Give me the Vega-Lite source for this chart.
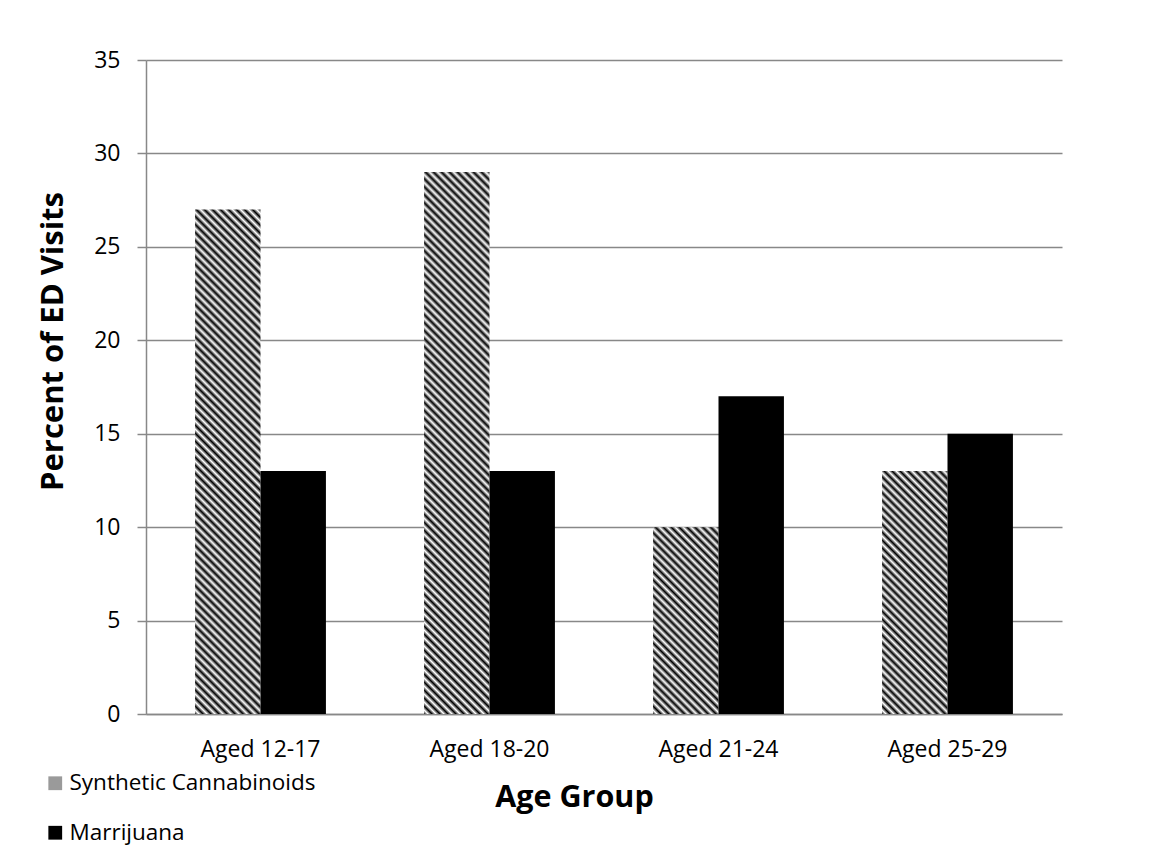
{
"$schema": "https://vega.github.io/schema/vega-lite/v6.json",
"width": 916, "height": 654,
"autosize": "none",
"padding": {"left": 146, "top": 60, "right": 89, "bottom": 143},
"background": "#ffffff",
"config": {"font": "Open Sans", "view": {"stroke": null}},
"data": {"values": [
{"age": "Aged 12-17", "series": "Synthetic Cannabinoids", "value": 27},
{"age": "Aged 12-17", "series": "Marrijuana", "value": 13},
{"age": "Aged 18-20", "series": "Synthetic Cannabinoids", "value": 29},
{"age": "Aged 18-20", "series": "Marrijuana", "value": 13},
{"age": "Aged 21-24", "series": "Synthetic Cannabinoids", "value": 10},
{"age": "Aged 21-24", "series": "Marrijuana", "value": 17},
{"age": "Aged 25-29", "series": "Synthetic Cannabinoids", "value": 13},
{"age": "Aged 25-29", "series": "Marrijuana", "value": 15}
]},
"mark": {"type": "bar"},
"encoding": {
"x": {"field": "age", "type": "nominal", "sort": null,
 "scale": {"paddingInner": 0.428571, "paddingOuter": 0.214286},
 "axis": {"title": "Age Group", "labelAngle": 0, "ticks": false, "grid": false, "domainColor": "#888888", "domainWidth": 1.5,
  "labelFont": "Open Sans", "labelFontSize": 23, "labelColor": "#000000", "labelBaseline": "alphabetic", "labelPadding": 42,
  "titleFont": "Open Sans", "titleFontSize": 30.5, "titleFontWeight": "bold", "titleColor": "#000000",
  "titleX": 428, "titleY": 92, "titleAlign": "center", "titleBaseline": "alphabetic"}},
"xOffset": {"field": "series", "type": "nominal", "scale": {"domain": ["Synthetic Cannabinoids", "Marrijuana"], "paddingInner": 0, "paddingOuter": 0}},
"y": {"field": "value", "type": "quantitative", "scale": {"domain": [0, 35], "nice": false},
 "axis": {"title": "Percent of ED Visits", "values": [0, 5, 10, 15, 20, 25, 30, 35], "grid": true, "gridColor": "#888888", "gridWidth": 1.5,
  "domainColor": "#888888", "domainWidth": 1.5, "tickColor": "#888888", "tickWidth": 1.5, "tickSize": 9,
  "labelFont": "Open Sans", "labelFontSize": 23, "labelColor": "#000000", "labelPadding": 17,
  "titleFont": "Open Sans", "titleFontSize": 31, "titleFontWeight": "bold", "titleColor": "#000000",
  "titleAngle": 270, "titleX": -84, "titleY": 281, "titleAlign": "center", "titleBaseline": "alphabetic"}},
"color": {"field": "series", "type": "nominal",
 "scale": {"domain": ["Synthetic Cannabinoids", "Marrijuana"], "range": ["#9a9a9a", "#000000"]},
 "legend": {"title": null, "orient": "none", "legendX": -102, "legendY": 712, "direction": "vertical", "symbolType": "square", "symbolSize": 190, "symbolStrokeWidth": 0,
  "labelFont": "Open Sans", "labelFontSize": 22.5, "labelColor": "#000000", "labelOffset": 3, "labelLimit": 500, "rowPadding": 26.5, "padding": 0,
  "encode": {"symbols": {"update": {"fill": [
   {"test": "datum.value === 'Synthetic Cannabinoids'", "value": {"gradient": "linear", "x1": 0, "y1": 1, "x2": 1, "y2": 0, "stops": [{"offset":0,"color":"#000"},{"offset":0.125,"color":"#fff"},{"offset":0.25,"color":"#000"},{"offset":0.375,"color":"#fff"},{"offset":0.5,"color":"#000"},{"offset":0.625,"color":"#fff"},{"offset":0.75,"color":"#000"},{"offset":0.875,"color":"#fff"},{"offset":1,"color":"#000"}]}},
   {"value": "#000000"}]}}}},
 "condition": [
  {"test": "datum.series === 'Synthetic Cannabinoids' && datum.age === 'Aged 12-17'", "value": {"gradient": "linear", "x1": 0, "y1": 1, "x2": 0.14408, "y2": -0.11099, "stops": [
{"offset":0,"color":"#000"},{"offset":0.007,"color":"#fff"},{"offset":0.0141,"color":"#000"},{"offset":0.0211,"color":"#fff"},{"offset":0.0282,"color":"#000"},{"offset":0.0352,"color":"#fff"},{"offset":0.0423,"color":"#000"},{"offset":0.0493,"color":"#fff"},{"offset":0.0563,"color":"#000"},{"offset":0.0634,"color":"#fff"},{"offset":0.0704,"color":"#000"},{"offset":0.0775,"color":"#fff"},{"offset":0.0845,"color":"#000"},{"offset":0.0915,"color":"#fff"},{"offset":0.0986,"color":"#000"},{"offset":0.1056,"color":"#fff"},{"offset":0.1127,"color":"#000"},{"offset":0.1197,"color":"#fff"},{"offset":0.1268,"color":"#000"},{"offset":0.1338,"color":"#fff"},{"offset":0.1408,"color":"#000"},{"offset":0.1479,"color":"#fff"},{"offset":0.1549,"color":"#000"},{"offset":0.162,"color":"#fff"},{"offset":0.169,"color":"#000"},{"offset":0.1761,"color":"#fff"},{"offset":0.1831,"color":"#000"},{"offset":0.1901,"color":"#fff"},{"offset":0.1972,"color":"#000"},{"offset":0.2042,"color":"#fff"},{"offset":0.2113,"color":"#000"},{"offset":0.2183,"color":"#fff"},{"offset":0.2254,"color":"#000"},{"offset":0.2324,"color":"#fff"},{"offset":0.2394,"color":"#000"},{"offset":0.2465,"color":"#fff"},{"offset":0.2535,"color":"#000"},{"offset":0.2606,"color":"#fff"},{"offset":0.2676,"color":"#000"},{"offset":0.2746,"color":"#fff"},{"offset":0.2817,"color":"#000"},{"offset":0.2887,"color":"#fff"},{"offset":0.2958,"color":"#000"},{"offset":0.3028,"color":"#fff"},{"offset":0.3099,"color":"#000"},{"offset":0.3169,"color":"#fff"},{"offset":0.3239,"color":"#000"},{"offset":0.331,"color":"#fff"},{"offset":0.338,"color":"#000"},{"offset":0.3451,"color":"#fff"},{"offset":0.3521,"color":"#000"},{"offset":0.3592,"color":"#fff"},{"offset":0.3662,"color":"#000"},{"offset":0.3732,"color":"#fff"},{"offset":0.3803,"color":"#000"},{"offset":0.3873,"color":"#fff"},{"offset":0.3944,"color":"#000"},{"offset":0.4014,"color":"#fff"},{"offset":0.4085,"color":"#000"},{"offset":0.4155,"color":"#fff"},{"offset":0.4225,"color":"#000"},{"offset":0.4296,"color":"#fff"},{"offset":0.4366,"color":"#000"},{"offset":0.4437,"color":"#fff"},{"offset":0.4507,"color":"#000"},{"offset":0.4577,"color":"#fff"},{"offset":0.4648,"color":"#000"},{"offset":0.4718,"color":"#fff"},{"offset":0.4789,"color":"#000"},{"offset":0.4859,"color":"#fff"},{"offset":0.493,"color":"#000"},{"offset":0.5,"color":"#fff"},{"offset":0.507,"color":"#000"},{"offset":0.5141,"color":"#fff"},{"offset":0.5211,"color":"#000"},{"offset":0.5282,"color":"#fff"},{"offset":0.5352,"color":"#000"},{"offset":0.5423,"color":"#fff"},{"offset":0.5493,"color":"#000"},{"offset":0.5563,"color":"#fff"},{"offset":0.5634,"color":"#000"},{"offset":0.5704,"color":"#fff"},{"offset":0.5775,"color":"#000"},{"offset":0.5845,"color":"#fff"},{"offset":0.5915,"color":"#000"},{"offset":0.5986,"color":"#fff"},{"offset":0.6056,"color":"#000"},{"offset":0.6127,"color":"#fff"},{"offset":0.6197,"color":"#000"},{"offset":0.6268,"color":"#fff"},{"offset":0.6338,"color":"#000"},{"offset":0.6408,"color":"#fff"},{"offset":0.6479,"color":"#000"},{"offset":0.6549,"color":"#fff"},{"offset":0.662,"color":"#000"},{"offset":0.669,"color":"#fff"},{"offset":0.6761,"color":"#000"},{"offset":0.6831,"color":"#fff"},{"offset":0.6901,"color":"#000"},{"offset":0.6972,"color":"#fff"},{"offset":0.7042,"color":"#000"},{"offset":0.7113,"color":"#fff"},{"offset":0.7183,"color":"#000"},{"offset":0.7254,"color":"#fff"},{"offset":0.7324,"color":"#000"},{"offset":0.7394,"color":"#fff"},{"offset":0.7465,"color":"#000"},{"offset":0.7535,"color":"#fff"},{"offset":0.7606,"color":"#000"},{"offset":0.7676,"color":"#fff"},{"offset":0.7746,"color":"#000"},{"offset":0.7817,"color":"#fff"},{"offset":0.7887,"color":"#000"},{"offset":0.7958,"color":"#fff"},{"offset":0.8028,"color":"#000"},{"offset":0.8099,"color":"#fff"},{"offset":0.8169,"color":"#000"},{"offset":0.8239,"color":"#fff"},{"offset":0.831,"color":"#000"},{"offset":0.838,"color":"#fff"},{"offset":0.8451,"color":"#000"},{"offset":0.8521,"color":"#fff"},{"offset":0.8592,"color":"#000"},{"offset":0.8662,"color":"#fff"},{"offset":0.8732,"color":"#000"},{"offset":0.8803,"color":"#fff"},{"offset":0.8873,"color":"#000"},{"offset":0.8944,"color":"#fff"},{"offset":0.9014,"color":"#000"},{"offset":0.9085,"color":"#fff"},{"offset":0.9155,"color":"#000"},{"offset":0.9225,"color":"#fff"},{"offset":0.9296,"color":"#000"},{"offset":0.9366,"color":"#fff"},{"offset":0.9437,"color":"#000"},{"offset":0.9507,"color":"#fff"},{"offset":0.9577,"color":"#000"},{"offset":0.9648,"color":"#fff"},{"offset":0.9718,"color":"#000"},{"offset":0.9789,"color":"#fff"},{"offset":0.9859,"color":"#000"},{"offset":0.993,"color":"#fff"},{"offset":1,"color":"#000"}]}},
  {"test": "datum.series === 'Synthetic Cannabinoids' && datum.age === 'Aged 18-20'", "value": {"gradient": "linear", "x1": 0, "y1": 1, "x2": 0.13338, "y2": -0.10463, "stops": [
{"offset":0,"color":"#000"},{"offset":0.0066,"color":"#fff"},{"offset":0.0132,"color":"#000"},{"offset":0.0197,"color":"#fff"},{"offset":0.0263,"color":"#000"},{"offset":0.0329,"color":"#fff"},{"offset":0.0395,"color":"#000"},{"offset":0.0461,"color":"#fff"},{"offset":0.0526,"color":"#000"},{"offset":0.0592,"color":"#fff"},{"offset":0.0658,"color":"#000"},{"offset":0.0724,"color":"#fff"},{"offset":0.0789,"color":"#000"},{"offset":0.0855,"color":"#fff"},{"offset":0.0921,"color":"#000"},{"offset":0.0987,"color":"#fff"},{"offset":0.1053,"color":"#000"},{"offset":0.1118,"color":"#fff"},{"offset":0.1184,"color":"#000"},{"offset":0.125,"color":"#fff"},{"offset":0.1316,"color":"#000"},{"offset":0.1382,"color":"#fff"},{"offset":0.1447,"color":"#000"},{"offset":0.1513,"color":"#fff"},{"offset":0.1579,"color":"#000"},{"offset":0.1645,"color":"#fff"},{"offset":0.1711,"color":"#000"},{"offset":0.1776,"color":"#fff"},{"offset":0.1842,"color":"#000"},{"offset":0.1908,"color":"#fff"},{"offset":0.1974,"color":"#000"},{"offset":0.2039,"color":"#fff"},{"offset":0.2105,"color":"#000"},{"offset":0.2171,"color":"#fff"},{"offset":0.2237,"color":"#000"},{"offset":0.2303,"color":"#fff"},{"offset":0.2368,"color":"#000"},{"offset":0.2434,"color":"#fff"},{"offset":0.25,"color":"#000"},{"offset":0.2566,"color":"#fff"},{"offset":0.2632,"color":"#000"},{"offset":0.2697,"color":"#fff"},{"offset":0.2763,"color":"#000"},{"offset":0.2829,"color":"#fff"},{"offset":0.2895,"color":"#000"},{"offset":0.2961,"color":"#fff"},{"offset":0.3026,"color":"#000"},{"offset":0.3092,"color":"#fff"},{"offset":0.3158,"color":"#000"},{"offset":0.3224,"color":"#fff"},{"offset":0.3289,"color":"#000"},{"offset":0.3355,"color":"#fff"},{"offset":0.3421,"color":"#000"},{"offset":0.3487,"color":"#fff"},{"offset":0.3553,"color":"#000"},{"offset":0.3618,"color":"#fff"},{"offset":0.3684,"color":"#000"},{"offset":0.375,"color":"#fff"},{"offset":0.3816,"color":"#000"},{"offset":0.3882,"color":"#fff"},{"offset":0.3947,"color":"#000"},{"offset":0.4013,"color":"#fff"},{"offset":0.4079,"color":"#000"},{"offset":0.4145,"color":"#fff"},{"offset":0.4211,"color":"#000"},{"offset":0.4276,"color":"#fff"},{"offset":0.4342,"color":"#000"},{"offset":0.4408,"color":"#fff"},{"offset":0.4474,"color":"#000"},{"offset":0.4539,"color":"#fff"},{"offset":0.4605,"color":"#000"},{"offset":0.4671,"color":"#fff"},{"offset":0.4737,"color":"#000"},{"offset":0.4803,"color":"#fff"},{"offset":0.4868,"color":"#000"},{"offset":0.4934,"color":"#fff"},{"offset":0.5,"color":"#000"},{"offset":0.5066,"color":"#fff"},{"offset":0.5132,"color":"#000"},{"offset":0.5197,"color":"#fff"},{"offset":0.5263,"color":"#000"},{"offset":0.5329,"color":"#fff"},{"offset":0.5395,"color":"#000"},{"offset":0.5461,"color":"#fff"},{"offset":0.5526,"color":"#000"},{"offset":0.5592,"color":"#fff"},{"offset":0.5658,"color":"#000"},{"offset":0.5724,"color":"#fff"},{"offset":0.5789,"color":"#000"},{"offset":0.5855,"color":"#fff"},{"offset":0.5921,"color":"#000"},{"offset":0.5987,"color":"#fff"},{"offset":0.6053,"color":"#000"},{"offset":0.6118,"color":"#fff"},{"offset":0.6184,"color":"#000"},{"offset":0.625,"color":"#fff"},{"offset":0.6316,"color":"#000"},{"offset":0.6382,"color":"#fff"},{"offset":0.6447,"color":"#000"},{"offset":0.6513,"color":"#fff"},{"offset":0.6579,"color":"#000"},{"offset":0.6645,"color":"#fff"},{"offset":0.6711,"color":"#000"},{"offset":0.6776,"color":"#fff"},{"offset":0.6842,"color":"#000"},{"offset":0.6908,"color":"#fff"},{"offset":0.6974,"color":"#000"},{"offset":0.7039,"color":"#fff"},{"offset":0.7105,"color":"#000"},{"offset":0.7171,"color":"#fff"},{"offset":0.7237,"color":"#000"},{"offset":0.7303,"color":"#fff"},{"offset":0.7368,"color":"#000"},{"offset":0.7434,"color":"#fff"},{"offset":0.75,"color":"#000"},{"offset":0.7566,"color":"#fff"},{"offset":0.7632,"color":"#000"},{"offset":0.7697,"color":"#fff"},{"offset":0.7763,"color":"#000"},{"offset":0.7829,"color":"#fff"},{"offset":0.7895,"color":"#000"},{"offset":0.7961,"color":"#fff"},{"offset":0.8026,"color":"#000"},{"offset":0.8092,"color":"#fff"},{"offset":0.8158,"color":"#000"},{"offset":0.8224,"color":"#fff"},{"offset":0.8289,"color":"#000"},{"offset":0.8355,"color":"#fff"},{"offset":0.8421,"color":"#000"},{"offset":0.8487,"color":"#fff"},{"offset":0.8553,"color":"#000"},{"offset":0.8618,"color":"#fff"},{"offset":0.8684,"color":"#000"},{"offset":0.875,"color":"#fff"},{"offset":0.8816,"color":"#000"},{"offset":0.8882,"color":"#fff"},{"offset":0.8947,"color":"#000"},{"offset":0.9013,"color":"#fff"},{"offset":0.9079,"color":"#000"},{"offset":0.9145,"color":"#fff"},{"offset":0.9211,"color":"#000"},{"offset":0.9276,"color":"#fff"},{"offset":0.9342,"color":"#000"},{"offset":0.9408,"color":"#fff"},{"offset":0.9474,"color":"#000"},{"offset":0.9539,"color":"#fff"},{"offset":0.9605,"color":"#000"},{"offset":0.9671,"color":"#fff"},{"offset":0.9737,"color":"#000"},{"offset":0.9803,"color":"#fff"},{"offset":0.9868,"color":"#000"},{"offset":0.9934,"color":"#fff"},{"offset":1,"color":"#000"}]}},
  {"test": "datum.series === 'Synthetic Cannabinoids' && datum.age === 'Aged 21-24'", "value": {"gradient": "linear", "x1": 0, "y1": 1, "x2": 0.42113, "y2": -0.20271, "stops": [
{"offset":0,"color":"#000"},{"offset":0.0156,"color":"#fff"},{"offset":0.0313,"color":"#000"},{"offset":0.0469,"color":"#fff"},{"offset":0.0625,"color":"#000"},{"offset":0.0781,"color":"#fff"},{"offset":0.0938,"color":"#000"},{"offset":0.1094,"color":"#fff"},{"offset":0.125,"color":"#000"},{"offset":0.1406,"color":"#fff"},{"offset":0.1563,"color":"#000"},{"offset":0.1719,"color":"#fff"},{"offset":0.1875,"color":"#000"},{"offset":0.2031,"color":"#fff"},{"offset":0.2188,"color":"#000"},{"offset":0.2344,"color":"#fff"},{"offset":0.25,"color":"#000"},{"offset":0.2656,"color":"#fff"},{"offset":0.2813,"color":"#000"},{"offset":0.2969,"color":"#fff"},{"offset":0.3125,"color":"#000"},{"offset":0.3281,"color":"#fff"},{"offset":0.3438,"color":"#000"},{"offset":0.3594,"color":"#fff"},{"offset":0.375,"color":"#000"},{"offset":0.3906,"color":"#fff"},{"offset":0.4063,"color":"#000"},{"offset":0.4219,"color":"#fff"},{"offset":0.4375,"color":"#000"},{"offset":0.4531,"color":"#fff"},{"offset":0.4688,"color":"#000"},{"offset":0.4844,"color":"#fff"},{"offset":0.5,"color":"#000"},{"offset":0.5156,"color":"#fff"},{"offset":0.5313,"color":"#000"},{"offset":0.5469,"color":"#fff"},{"offset":0.5625,"color":"#000"},{"offset":0.5781,"color":"#fff"},{"offset":0.5938,"color":"#000"},{"offset":0.6094,"color":"#fff"},{"offset":0.625,"color":"#000"},{"offset":0.6406,"color":"#fff"},{"offset":0.6563,"color":"#000"},{"offset":0.6719,"color":"#fff"},{"offset":0.6875,"color":"#000"},{"offset":0.7031,"color":"#fff"},{"offset":0.7188,"color":"#000"},{"offset":0.7344,"color":"#fff"},{"offset":0.75,"color":"#000"},{"offset":0.7656,"color":"#fff"},{"offset":0.7813,"color":"#000"},{"offset":0.7969,"color":"#fff"},{"offset":0.8125,"color":"#000"},{"offset":0.8281,"color":"#fff"},{"offset":0.8438,"color":"#000"},{"offset":0.8594,"color":"#fff"},{"offset":0.875,"color":"#000"},{"offset":0.8906,"color":"#fff"},{"offset":0.9063,"color":"#000"},{"offset":0.9219,"color":"#fff"},{"offset":0.9375,"color":"#000"},{"offset":0.9531,"color":"#fff"},{"offset":0.9688,"color":"#000"},{"offset":0.9844,"color":"#fff"},{"offset":1,"color":"#000"}]}},
  {"test": "datum.series === 'Synthetic Cannabinoids' && datum.age === 'Aged 25-29'", "value": {"gradient": "linear", "x1": 0, "y1": 1, "x2": 0.31877, "y2": -0.1835, "stops": [
{"offset":0,"color":"#000"},{"offset":0.0128,"color":"#fff"},{"offset":0.0256,"color":"#000"},{"offset":0.0385,"color":"#fff"},{"offset":0.0513,"color":"#000"},{"offset":0.0641,"color":"#fff"},{"offset":0.0769,"color":"#000"},{"offset":0.0897,"color":"#fff"},{"offset":0.1026,"color":"#000"},{"offset":0.1154,"color":"#fff"},{"offset":0.1282,"color":"#000"},{"offset":0.141,"color":"#fff"},{"offset":0.1538,"color":"#000"},{"offset":0.1667,"color":"#fff"},{"offset":0.1795,"color":"#000"},{"offset":0.1923,"color":"#fff"},{"offset":0.2051,"color":"#000"},{"offset":0.2179,"color":"#fff"},{"offset":0.2308,"color":"#000"},{"offset":0.2436,"color":"#fff"},{"offset":0.2564,"color":"#000"},{"offset":0.2692,"color":"#fff"},{"offset":0.2821,"color":"#000"},{"offset":0.2949,"color":"#fff"},{"offset":0.3077,"color":"#000"},{"offset":0.3205,"color":"#fff"},{"offset":0.3333,"color":"#000"},{"offset":0.3462,"color":"#fff"},{"offset":0.359,"color":"#000"},{"offset":0.3718,"color":"#fff"},{"offset":0.3846,"color":"#000"},{"offset":0.3974,"color":"#fff"},{"offset":0.4103,"color":"#000"},{"offset":0.4231,"color":"#fff"},{"offset":0.4359,"color":"#000"},{"offset":0.4487,"color":"#fff"},{"offset":0.4615,"color":"#000"},{"offset":0.4744,"color":"#fff"},{"offset":0.4872,"color":"#000"},{"offset":0.5,"color":"#fff"},{"offset":0.5128,"color":"#000"},{"offset":0.5256,"color":"#fff"},{"offset":0.5385,"color":"#000"},{"offset":0.5513,"color":"#fff"},{"offset":0.5641,"color":"#000"},{"offset":0.5769,"color":"#fff"},{"offset":0.5897,"color":"#000"},{"offset":0.6026,"color":"#fff"},{"offset":0.6154,"color":"#000"},{"offset":0.6282,"color":"#fff"},{"offset":0.641,"color":"#000"},{"offset":0.6538,"color":"#fff"},{"offset":0.6667,"color":"#000"},{"offset":0.6795,"color":"#fff"},{"offset":0.6923,"color":"#000"},{"offset":0.7051,"color":"#fff"},{"offset":0.7179,"color":"#000"},{"offset":0.7308,"color":"#fff"},{"offset":0.7436,"color":"#000"},{"offset":0.7564,"color":"#fff"},{"offset":0.7692,"color":"#000"},{"offset":0.7821,"color":"#fff"},{"offset":0.7949,"color":"#000"},{"offset":0.8077,"color":"#fff"},{"offset":0.8205,"color":"#000"},{"offset":0.8333,"color":"#fff"},{"offset":0.8462,"color":"#000"},{"offset":0.859,"color":"#fff"},{"offset":0.8718,"color":"#000"},{"offset":0.8846,"color":"#fff"},{"offset":0.8974,"color":"#000"},{"offset":0.9103,"color":"#fff"},{"offset":0.9231,"color":"#000"},{"offset":0.9359,"color":"#fff"},{"offset":0.9487,"color":"#000"},{"offset":0.9615,"color":"#fff"},{"offset":0.9744,"color":"#000"},{"offset":0.9872,"color":"#fff"},{"offset":1,"color":"#000"}]}}
 ]}
}
}
